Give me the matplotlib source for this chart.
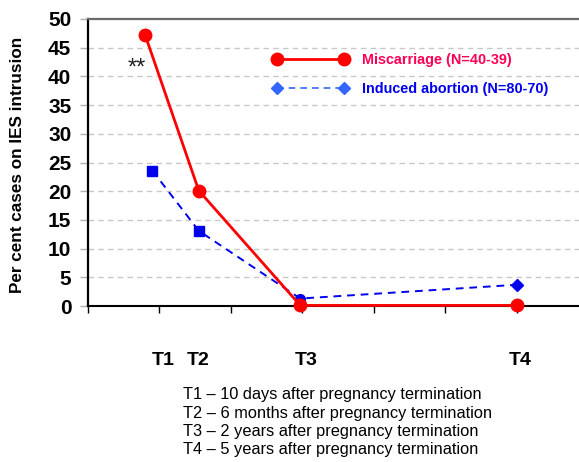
import matplotlib
matplotlib.use("Agg")
import matplotlib.pyplot as plt
from matplotlib.lines import Line2D

plt.rcParams['font.family'] = ['Liberation Sans', 'DejaVu Sans']

# Data (x = position on time axis, tick units)
mis_x = [0.80, 1.55, 2.97, 6.0]
mis_y = [47.2, 20.1, 0.1, 0.1]
ind_x = [0.90, 1.55, 2.97, 6.0]
ind_y = [23.6, 13.1, 1.3, 3.7]
ind_markers = ['s', 's', 'o', 'D']
time_labels = ['T1', 'T2', 'T3', 'T4']
time_label_x = [1.05, 1.54, 3.05, 6.05]
yticks = [0, 5, 10, 15, 20, 25, 30, 35, 40, 45, 50]
footnotes = ["T1 \u2013 10 days after pregnancy termination",
             "T2 \u2013 6 months after pregnancy termination",
             "T3 \u2013 2 years after pregnancy termination",
             "T4 \u2013 5 years after pregnancy termination"]
legend_labels = ["Miscarriage (N=40-39)", "Induced abortion (N=80-70)"]

fig = plt.figure(figsize=(5.79, 4.62), dpi=100)
ax = fig.add_axes([88/579, 1 - 306/462, (579-88)/579, (306-19)/462])

ax.set_xlim(0, 6.87)
ax.set_ylim(0, 50)
ax.set_yticks(yticks)
ax.set_yticklabels([str(v) for v in yticks], fontsize=15, fontweight='bold')
ax.set_xticks([0, 1, 2, 3, 4, 5, 6])
ax.set_xticklabels([])
ax.tick_params(axis='x', direction='out', length=5, width=1, bottom=True, top=False)
ax.tick_params(axis='y', direction='out', length=6, width=1, color='#b0b0b0', pad=6)
for v in yticks[1:-1]:
    ax.axhline(v, color='#c8c8c8', lw=1, ls=(0, (4, 3)), zorder=0)
ax.spines['right'].set_visible(False)
ax.spines['top'].set_color('#6a6a6a')
ax.spines['top'].set_linestyle((0, (2, 1)))
ax.spines['top'].set_linewidth(1.6)
ax.spines['left'].set_linewidth(1.6)
ax.spines['bottom'].set_linewidth(1.5)
ax.set_ylabel("Per cent cases on IES intrusion", fontsize=12.3, fontweight='bold', va='center')
ax.yaxis.set_label_coords((18 - 88) / 491, 0.49)

ax.plot(ind_x, ind_y, color='#0000ee', lw=1.4, ls=(0, (4, 3)), zorder=3, clip_on=False)
for x, y, m in zip(ind_x, ind_y, ind_markers):
    ax.plot([x], [y], marker=m, color='#0000ee', ms=7 if m != 'D' else 6.5, zorder=4, clip_on=False)
ax.plot(mis_x, mis_y, color='#ff0000', lw=2, marker='o', ms=9, zorder=5, clip_on=False)

ax.text(0.685, 41.3, "**", fontsize=17, ha='center', va='center', color='#222222')

handles = [Line2D([], [], color='#ff0000', lw=2, marker='o', ms=9),
           Line2D([], [], color='#3366ff', lw=1.2, ls=(0, (4, 3)), marker='D', ms=6)]
leg = ax.legend(handles, legend_labels, loc='upper left', bbox_to_anchor=(0.35, 0.927),
                frameon=False, handlelength=5.2, handletextpad=1.0, labelspacing=1.05,
                prop={'weight': 'bold', 'size': 10.4}, markerfirst=True, numpoints=2)
leg.get_texts()[0].set_color('#ff0055')
leg.get_texts()[1].set_color('#0000ee')

for lab, x in zip(time_labels, time_label_x):
    ax.text(x, -9.5, lab, fontsize=14, fontweight='bold', ha='center', va='center')

for i, line in enumerate(footnotes):
    fig.text(183/579, 1 - (395 + i*18.2)/462, line, fontsize=11.8, ha='left', va='center')

fig.savefig("out.png", dpi=100)
